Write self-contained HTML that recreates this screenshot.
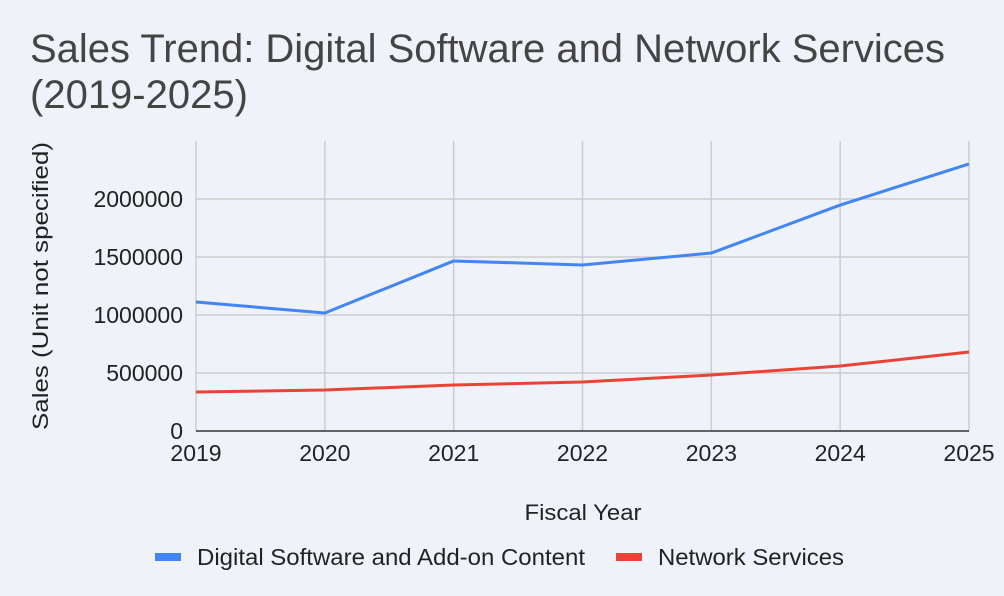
<!DOCTYPE html>
<html><head><meta charset="utf-8"><style>
body{margin:0;background:#eff2f9;font-family:"Liberation Sans",Arial,sans-serif;}
svg{display:block}
</style></head><body>
<svg width="1004" height="596">
<rect width="1004" height="596" fill="#eff2f9"/>
<text x="30" y="62" font-size="40" fill="#444" textLength="915" lengthAdjust="spacingAndGlyphs">Sales Trend: Digital Software and Network Services</text>
<text x="30" y="108" font-size="40" fill="#444">(2019-2025)</text>
<g id="grid"></g><g id="series"></g><g id="axes"></g>
<text x="583" y="520" font-size="22" text-anchor="middle" fill="#222" textLength="117" lengthAdjust="spacingAndGlyphs">Fiscal Year</text>
<text transform="translate(48,286) rotate(-90)" font-size="22" text-anchor="middle" fill="#222" textLength="288" lengthAdjust="spacingAndGlyphs">Sales (Unit not specified)</text>
<g><rect x="155" y="553" width="26" height="8" fill="#4285f4"/><text x="197" y="565" font-size="23" fill="#222" textLength="388" lengthAdjust="spacingAndGlyphs">Digital Software and Add-on Content</text></g>
<g><rect x="616" y="553" width="26" height="8" fill="#ea4335"/><text x="658" y="565" font-size="23" fill="#222" textLength="186" lengthAdjust="spacingAndGlyphs">Network Services</text></g>
</svg>
<script>
const years=[2019,2020,2021,2022,2023,2024,2025];
const digital=[1112000,1017000,1466000,1431000,1534000,1948000,2302000];
const network=[336000,353000,397000,422000,483000,560000,681000];
const yTicks=[0,500000,1000000,1500000,2000000];
const NS='http://www.w3.org/2000/svg';
const x0=196,x1=969,y0=431,yTop=141,yMax=2500000;
const xs=i=>x0+(x1-x0)*i/(years.length-1);
const ys=v=>y0-(y0-yTop)*v/yMax;
function mk(t,a,p){const e=document.createElementNS(NS,t);for(const k in a)e.setAttribute(k,a[k]);p.appendChild(e);return e;}
const g=document.getElementById('grid'),s=document.getElementById('series'),ax=document.getElementById('axes');
years.forEach((y,i)=>{
 const l=mk('line',{x1:xs(i),x2:xs(i),y1:yTop,y2:y0,stroke:'#ccc','stroke-width':1.5},g);
 
 
 const t=mk('text',{x:xs(i),y:y0+30,'font-size':23,'text-anchor':'middle',fill:'#222'},ax);t.textContent=y;
 
 
});
yTicks.forEach(v=>{
 const l=mk('line',{x1:x0,x2:x1,y1:ys(v),y2:ys(v),stroke:v===0?'#333':'#ccc','stroke-width':1.5},g);
 
 
 const t=mk('text',{x:x0-13,y:ys(v)+8,'font-size':23,'text-anchor':'end',fill:'#222'},ax);t.textContent=v;
 
 
});
function line(d,c,n){const p=mk('polyline',{points:d.map((v,i)=>xs(i)+','+ys(v)).join(' '),fill:'none',stroke:c,'stroke-width':3,'stroke-linejoin':'round'},s);
 
 }
line(network,'#ea4335','network-services-line');
line(digital,'#4285f4','digital-software-line');
</script>
</body></html>
